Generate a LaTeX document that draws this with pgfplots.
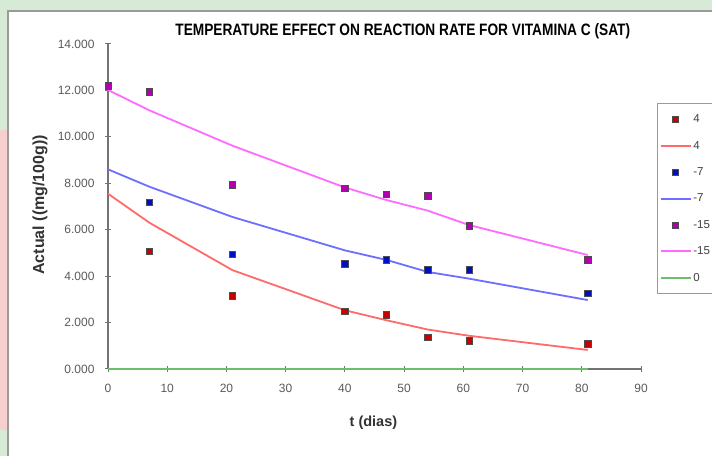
\documentclass[border=0pt]{standalone}
\usepackage{fontspec}
\setmainfont{Liberation Sans}
\newfontfamily\narrowbold[FakeStretch=0.83]{Liberation Sans Bold}
\usepackage{pgfplots}
\pgfplotsset{compat=1.18}
\definecolor{bggreen}{HTML}{D6EAD6}
\definecolor{bgpink}{HTML}{F7CFCF}
\definecolor{framegray}{HTML}{9A9A9A}
\definecolor{ticktext}{HTML}{5A5A5A}
\definecolor{mred}{HTML}{C80000}
\definecolor{mblue}{HTML}{0010C0}
\definecolor{mmag}{HTML}{B000B0}
\definecolor{lred}{HTML}{FF6B6B}
\definecolor{lblue}{HTML}{6E6EFF}
\definecolor{lmag}{HTML}{FF6BFF}
\definecolor{lgreen}{HTML}{6CC06C}
\pgfplotsset{
  marks/.style={only marks, mark=square*, mark size=3.2bp,
    mark options={draw=black!70, line width=0.5bp, fill=#1},
    legend image code/.code={\path[draw=none] (0bp,0bp) -- (30bp,0bp); \path[##1] plot coordinates {(15bp,0bp)};}},
  fitline/.style={no marks, draw=#1, line width=1.8bp,
    legend image code/.code={\draw[##1] (0bp,0bp) -- (30bp,0bp);}},
}
\begin{document}
\begin{tikzpicture}[x=1bp,y=1bp]
\useasboundingbox (0,0) rectangle (712,456);
\fill[bggreen] (0,0) rectangle (712,456);
\fill[bgpink] (0,26) rectangle (8,326);
\fill[white] (8,0) rectangle (712,445);
\draw[framegray, line width=1.4bp] (8,0) -- (8,445) -- (712,445);
\begin{axis}[
  at={(108bp,87bp)}, anchor=south west,
  scale only axis, width=533bp, height=325bp,
  xmin=0, xmax=90, ymin=0, ymax=14,
  xtick={0,10,...,90}, ytick={0,2,...,14},
  axis x line=bottom, axis y line=left,
  axis line style={-, draw=black!55, line width=1.2bp},
  tick align=center, major tick length=6bp,
  tick style={draw=black!55, line width=1bp},
  /pgf/number format/assume math mode=true,
  ticklabel style={font=\fontsize{12bp}{14bp}\selectfont, text=ticktext},
  yticklabel style={/pgf/number format/fixed, /pgf/number format/fixed zerofill,
    /pgf/number format/precision=3, xshift=-7bp},
  xticklabel style={yshift=-9bp},
  title={TEMPERATURE EFFECT ON REACTION RATE FOR VITAMINA C (SAT)},
  title style={font=\narrowbold\fontsize{16.5bp}{19bp}\selectfont,
    at={(axis description cs:0.553,1.021)}, anchor=center},
  xlabel={t (dias)},
  xlabel style={font=\bfseries\fontsize{14.5bp}{17bp}\selectfont, text=black!80,
    at={(axis description cs:0.498,-0.166)}, anchor=center},
  ylabel={Actual ((mg/100g))},
  ylabel style={font=\bfseries\fontsize{16bp}{18bp}\selectfont, text=black!80,
    at={(axis description cs:-0.1276,0.505)}, anchor=center},
  legend style={at={(1.030,0.818)}, anchor=north west,
    draw=framegray, line width=1.2bp, fill=white,
    font=\fontsize{11.5bp}{13bp}\selectfont, text=black!75,
    row sep=13bp, inner xsep=2bp, inner ysep=9bp, cells={anchor=west}},
  clip=false,
]
\addplot[marks=mred] coordinates {
  (7,5.08) (21,3.15) (40,2.50) (47,2.33) (54,1.38) (61,1.22) (81,1.08)};
\addlegendentry{4}
\addplot[fitline=lred] coordinates {
  (0,7.55) (7,6.30) (21,4.26) (40,2.53) (47,2.10) (54,1.70) (61,1.43) (81,0.82)};
\addlegendentry{4}
\addplot[marks=mblue] coordinates {
  (7,7.18) (21,4.93) (40,4.53) (47,4.70) (54,4.27) (61,4.27) (81,3.27)};
\addlegendentry{-7}
\addplot[fitline=lblue] coordinates {
  (0,8.60) (7,7.85) (21,6.55) (40,5.11) (47,4.70) (54,4.18) (61,3.89) (81,2.97)};
\addlegendentry{-7}
\addplot[marks=mmag] coordinates {
  (0,12.20) (7,11.94) (21,7.93) (40,7.78) (47,7.54) (54,7.46) (61,6.17) (81,4.70)};
\addlegendentry{-15}
\addplot[fitline=lmag] coordinates {
  (0,12.02) (7,11.14) (21,9.62) (40,7.82) (47,7.28) (54,6.82) (61,6.20) (81,4.91)};
\addlegendentry{-15}
\addplot[fitline=lgreen] coordinates {
  (0,0) (7,0) (21,0) (40,0) (47,0) (54,0) (61,0) (81,0)};
\addlegendentry{0}
\end{axis}
\end{tikzpicture}
\end{document}
